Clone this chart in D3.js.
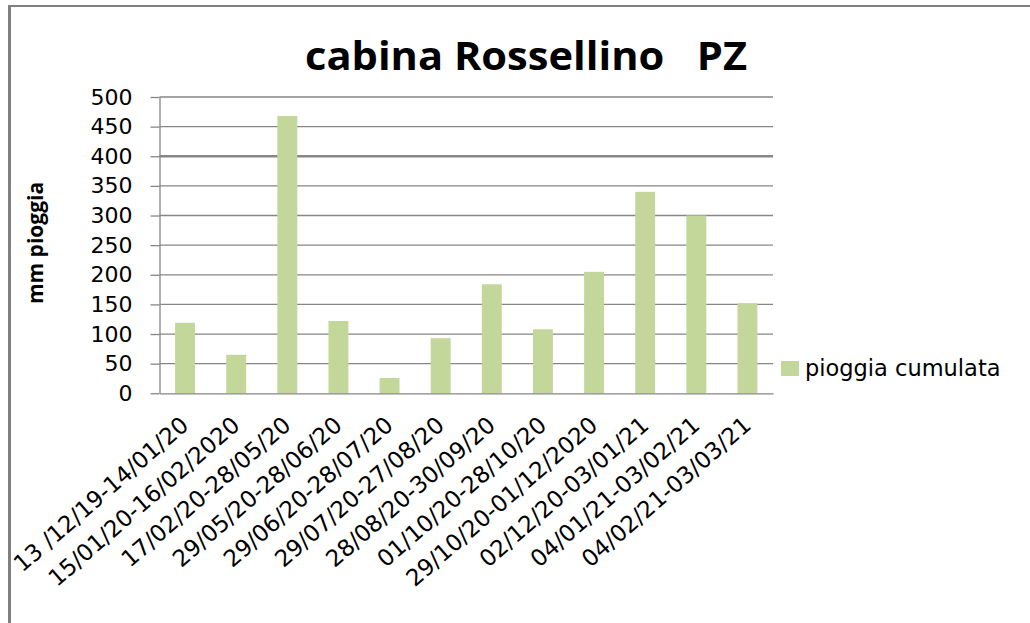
<!DOCTYPE html>
<html>
<head>
<meta charset="utf-8">
<script src="https://cdn.jsdelivr.net/npm/d3@7"></script>
<style>
  body { margin: 0; background: #fff; }
  svg { display: block; }
</style>
</head>
<body>
<script>
//chart data
var periods = ["13 /12/19-14/01/20", "15/01/20-16/02/2020", "17/02/20-28/05/20", "29/05/20-28/06/20",
    "29/06/20-28/07/20", "29/07/20-27/08/20", "28/08/20-30/09/20", "01/10/20-28/10/20",
    "29/10/20-01/12/2020", "02/12/20-03/01/21", "04/01/21-03/02/21", "04/02/21-03/03/21"];
var rainValues = [119, 65, 468, 122, 26, 93, 184, 108, 205, 340, 300, 152];
var yTicks = [0, 50, 100, 150, 200, 250, 300, 350, 400, 450, 500];
var seriesName = "pioggia cumulata";
var chartTitle = "cabina Rossellino   PZ";
var yTitle = "mm pioggia";

(function(){
    var width = 1030,
        height = 623;
    var plot = {left: 159.5, right: 773, top: 97, bottom: 393.3};
    var gray = "#868686",
        barColor = "#c4d79b";

    var svg = d3.select("body")
        .append("svg")
        .attr("width", width)
        .attr("height", height);

    //outer frame (only top and left edges are visible)
    svg.append("line")
        .attr("x1", 8).attr("x2", width)
        .attr("y1", 6).attr("y2", 6)
        .attr("stroke", "#808080").attr("stroke-width", 2);
    svg.append("line")
        .attr("x1", 9.5).attr("x2", 9.5)
        .attr("y1", 5).attr("y2", height)
        .attr("stroke", "#808080").attr("stroke-width", 3);

    //scales
    var x = d3.scaleBand()
        .domain(periods)
        .range([plot.left, plot.right])
        .paddingInner(0.61)
        .paddingOuter(0.305);

    var y = d3.scaleLinear()
        .domain([0, 500])
        .range([plot.bottom, plot.top]);

    //gridlines
    svg.append("g")
        .selectAll("line")
        .data(yTicks.filter(function(d){ return d > 0; }))
        .enter()
        .append("line")
        .attr("x1", plot.left)
        .attr("x2", plot.right)
        .attr("y1", function(d){ return y(d); })
        .attr("y2", function(d){ return y(d); })
        .attr("stroke", gray)
        .attr("stroke-width", function(d){ return d == 400 ? 2.6 : 1.3; });

    //y axis
    var yAxis = svg.append("g")
        .attr("transform", "translate(" + plot.left + ",0)")
        .call(d3.axisLeft(y).tickValues(yTicks).tickSize(9).tickSizeOuter(0).tickPadding(18));
    yAxis.select(".domain").attr("stroke", gray).attr("stroke-width", 1.3);
    yAxis.selectAll(".tick line").attr("stroke", gray).attr("stroke-width", 1.3);
    yAxis.selectAll(".tick text")
        .attr("fill", "#000")
        .style("font-family", "'DejaVu Sans', sans-serif")
        .style("font-size", "22px");

    //bars
    svg.append("g")
        .selectAll("rect")
        .data(rainValues)
        .enter()
        .append("rect")
        .attr("x", function(d, i){ return x(periods[i]); })
        .attr("width", x.bandwidth())
        .attr("y", function(d){ return y(d); })
        .attr("height", function(d){ return y(0) - y(d); })
        .attr("fill", barColor);

    //x axis
    var xAxis = svg.append("g")
        .attr("transform", "translate(0," + plot.bottom + ")")
        .call(d3.axisBottom(x).tickSize(0).tickSizeOuter(0));
    xAxis.select(".domain").attr("stroke", gray).attr("stroke-width", 1.3);
    xAxis.selectAll(".tick text")
        .attr("fill", "#000")
        .attr("text-anchor", "end")
        .attr("x", 0).attr("y", 0).attr("dy", null)
        .attr("transform", "translate(5,34) rotate(-41)")
        .style("font-family", "'DejaVu Sans', sans-serif")
        .style("font-size", "23px");

    //title
    svg.append("text")
        .attr("x", 526)
        .attr("y", 70)
        .attr("text-anchor", "middle")
        .attr("textLength", 442)
        .attr("lengthAdjust", "spacingAndGlyphs")
        .style("font-family", "'Open Sans', sans-serif")
        .style("font-weight", "bold")
        .style("font-size", "40px")
        .style("white-space", "pre")
        .text(chartTitle);

    //y axis title
    svg.append("text")
        .attr("transform", "translate(43,243) rotate(-90)")
        .attr("text-anchor", "middle")
        .style("font-family", "'Open Sans', sans-serif")
        .style("font-weight", "bold")
        .style("font-size", "21px")
        .text(yTitle);

    //legend
    var legend = svg.append("g")
        .attr("transform", "translate(781,361)");
    legend.append("rect")
        .attr("width", 18)
        .attr("height", 15)
        .attr("fill", barColor);
    legend.append("text")
        .attr("x", 24)
        .attr("y", 15)
        .style("font-family", "'DejaVu Sans', sans-serif")
        .style("font-size", "22.5px")
        .text(seriesName);
})();
</script>
</body>
</html>
